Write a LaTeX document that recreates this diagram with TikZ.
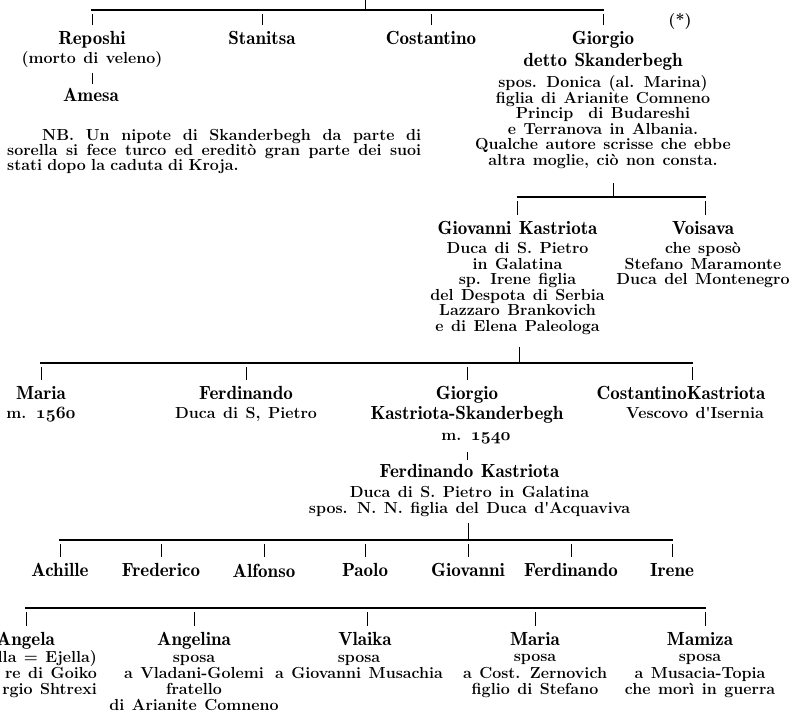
\documentclass[tikz,border=0pt]{standalone}
\usepackage{fontspec}
\usetikzlibrary{calc}

\newfontfamily\demifam{lmromandemi10-regular.otf}
\newfontfamily\notefam{lmroman12-bold.otf}
\newcommand{\namefont}{\fontsize{19}{21}\selectfont\demifam}
\newcommand{\notefont}{\notefam\fontsize{16}{15.5}\selectfont\lineskiplimit=-20pt
  \spaceskip=7.5pt plus 2pt minus 1pt\relax}
\newcommand{\sisterfont}{\notefont\baselineskip=16.2pt\relax}
\newcommand{\fullline}[1]{\makebox[414pt][s]{\spaceskip=4pt plus 1fil #1}}
\newcommand{\oldnum}[1]{{\usefont{OML}{cmm}{b}{it}#1}}

\begin{document}
\begin{tikzpicture}[x=1pt, y=-1pt, line cap=butt,
  bar/.style={line width=2.8pt, shorten <=-1pt, shorten >=-1pt},
  tick/.style={line width=1pt, shorten <=4pt, shorten >=6.5pt},
  down/.style={line width=1pt},
  person/.style={anchor=north, inner sep=0pt, align=center, font=\notefont},
  sister/.style={person, font=\sisterfont}]
\useasboundingbox (0,0) rectangle (792,717);
\clip (0,0) rectangle (792,717);

%========================
% First row: the brothers
%========================
\coordinate (parent) at (365,-2);
\coordinate (bar1) at (0,10);

\node[person] (reposhi) at (92,31.5) {{\namefont Reposhi}\\[3.5pt](morto di veleno)};
\node[person] (amesa) at (91,88.5) {\namefont Amesa};
\node[person] (stanitsa) at (262,31.5) {\namefont Stanitsa};
\node[person] (costantino) at (431,31.5) {\namefont Costantino};
\node[person] (giorgio) at (603,31.5) {{\namefont Giorgio}\\[6.5pt]{\namefont detto Skanderbegh}\\[5.5pt]
  spos. Donica (al. Marina)\\figlia di Arianite Comneno\\Princip~~di Budareshi\\
  e Terranova in Albania.\\Qualche autore scrisse che ebbe\\altra moglie, ciò non consta.};
\node[font=\notefont] (star) at (680,22) {(*)};

% note on the nephew
\node[anchor=north west, inner sep=0pt, font=\notefont, text width=414pt, align=left] (nb) at (7,129.5) {
  \fullline{\hspace*{35pt}NB. Un nipote di Skanderbegh da parte di}\\[-.7pt]
  \fullline{sorella si fece turco ed ereditò gran parte dei suoi}\\[-.7pt]
  stati dopo la caduta di Kroja.};

\draw[down] (parent) -- (parent |- bar1);
\draw[bar] (reposhi.north |- bar1) -- (giorgio.north |- bar1);
\foreach \n in {reposhi,stanitsa,costantino,giorgio}
  \draw[tick] (\n.north |- bar1) -- (\n.north);
\draw[down, shorten <=5pt, shorten >=4.5pt] (reposhi.south) -- (reposhi.south |- amesa.north);

%========================
% Second row: children of Giorgio
%========================
\coordinate (bar2) at (0,197);

\node[person] (giovanni) at (517.5,221.5) {{\namefont Giovanni Kastriota}\\[3.5pt]
  Duca di S. Pietro\\in Galatina\\sp. Irene figlia\\del Despota di Serbia\\
  Lazzaro Brankovich\\e di Elena Paleologa};
\node[person] (voisava) at (703,221.5) {{\namefont Voisava}\\[3.5pt]che sposò\\
  Stefano Maramonte\\Duca del Montenegro};
\coordinate (voisava-t) at ([xshift=2pt]voisava.north);

\draw[down, shorten <=14.5pt] ([xshift=10pt]giorgio.south) -- ([xshift=10pt]giorgio.south |- bar2);
\draw[bar] (giovanni.north |- bar2) -- (voisava-t |- bar2);
\foreach \n in {giovanni.north,voisava-t}
  \draw[tick] (\n |- bar2) -- (\n);

%========================
% Third row: children of Giovanni
%========================
\coordinate (bar3) at (0,363);

\node[person] (maria) at (41,386.5) {{\namefont Maria}\\[3.5pt]m. \oldnum{1560}};
\node[person] (ferdinando) at (246,386.5) {{\namefont Ferdinando}\\[3.5pt]Duca di S, Pietro};
\node[person] (giorgioks) at (467,386.5) {{\namefont Giorgio}\\[4.5pt]{\namefont Kastriota-Skanderbegh}\\[5.5pt]
  \hspace*{18pt}m. \oldnum{1540}};
\node[person] (costk) at (681,386.5) {{\namefont CostantinoKastriota}\\[3.5pt]\hspace*{28pt}Vescovo d'Isernia};
\coordinate (costk-t) at ([xshift=11pt]costk.north);

\draw[down, shorten <=12pt] ([xshift=1.5pt]giovanni.south) -- ([xshift=1.5pt]giovanni.south |- bar3);
\draw[bar] (maria.north |- bar3) -- (costk-t |- bar3);
\foreach \n in {maria.north,ferdinando.north,giorgioks.north,costk-t}
  \draw[tick] (\n |- bar3) -- (\n);

% Ferdinando, son of Giorgio
\node[person] (ferdk) at (469.5,464.5) {{\namefont Ferdinando Kastriota}\\[4.5pt]
  Duca di S. Pietro in Galatina\\spos. N. N. figlia del Duca d'Acquaviva};
\draw[down, shorten <=7pt, shorten >=4.5pt] (giorgioks.south) -- (giorgioks.south |- ferdk.north);

%========================
% Fourth row: children of Ferdinando
%========================
\coordinate (bar4) at (0,540);

\node[person] (achille) at (60,563.5) {\namefont Achille};
\node[person] (frederico) at (161,563.5) {\namefont Frederico};
\node[person] (alfonso) at (264,563.5) {\namefont Alfonso};
\node[person] (paolo) at (365,563.5) {\namefont Paolo};
\node[person] (giovanni4) at (468,563.5) {\namefont Giovanni};
\node[person] (ferdinando4) at (571,563.5) {\namefont Ferdinando};
\node[person] (irene) at (672,563.5) {\namefont Irene};

\draw[down, shorten <=6pt] ([xshift=-1.5pt]ferdk.south) -- ([xshift=-1.5pt]ferdk.south |- bar4);
\draw[bar] (achille.north |- bar4) -- (irene.north |- bar4);
\foreach \n in {achille,frederico,alfonso,paolo,giovanni4,ferdinando4,irene}
  \draw[tick] (\n.north |- bar4) -- (\n.north);

%========================
% Fifth row: the sisters
%========================
\coordinate (bar5) at (0,608);

\node[sister, anchor=north east, align=right] (angela) at (97,632.5) {{\namefont Angela}\hspace*{42pt}\\
  lla = Ejella)\\re di Goiko\hspace*{10pt}\\rgio Shtrexi};
\coordinate (angela-t) at ([xshift=-71pt]angela.north east);
\node[sister] (angelina) at (194,632.5) {{\namefont Angelina}\\sposa\\a Vladani-Golemi\hspace*{14pt}\\
  fratello\\di Arianite Comneno};
\node[sister] (vlaika) at (359,632.5) {\hspace*{12pt}{\namefont Vlaika}\\sposa\\a Giovanni Musachia};
\coordinate (vlaika-t) at ([xshift=8pt]vlaika.north);
\node[sister] (maria5) at (535,632.5) {{\namefont Maria}\\sposa\\a Cost. Zernovich\\figlio di Stefano};
\node[sister] (mamiza) at (700,632.5) {{\namefont Mamiza}\\sposa\\a Musacia-Topia\\che morì in guerra};
\coordinate (mamiza-t) at ([xshift=5pt]mamiza.north);

\draw[bar] (angela-t |- bar5) -- (mamiza-t |- bar5);
\foreach \n in {angela-t,angelina.north,vlaika-t,maria5.north,mamiza-t}
  \draw[tick] (\n |- bar5) -- (\n);
\end{tikzpicture}
\end{document}
